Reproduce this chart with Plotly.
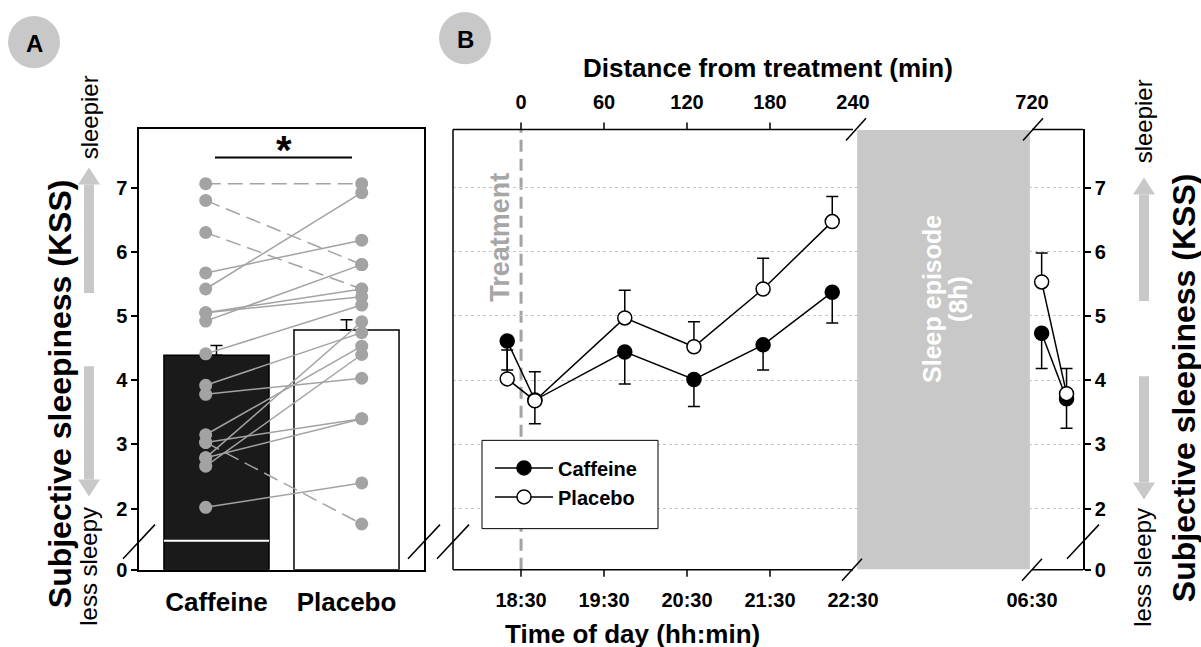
import plotly.graph_objects as go

W, H = 1201, 647          # reference pixel space used for placing decorations
FIG_H = 660               # page height; the capture maps it onto 647 rows
FONT = "Liberation Sans, Arial, sans-serif"
GRAY = "#a3a3a3"
LIGHT = "#c8c8c8"

# ---------------- Panel A data ----------------
groups = ["Caffeine", "Placebo"]
group_mean = [4.39, 4.78]
group_sem = [0.15, 0.16]
caffeine_ind = [7.06, 6.80, 6.30, 5.67, 5.42, 5.05, 5.05, 4.92, 4.41,
                3.92, 3.78, 3.15, 3.03, 3.03, 2.79, 2.79, 2.66, 2.02]
placebo_ind = [7.06, 5.80, 5.42, 6.18, 6.92, 5.42, 5.30, 5.80, 5.17,
               4.74, 4.03, 4.53, 3.40, 1.76, 3.40, 4.91, 4.40, 2.40]

# ---------------- Panel B data ----------------
time_min = [-10, 10, 75, 125, 175, 225, 727, 745]
caf_mean = [4.61, 3.69, 4.44, 4.01, 4.55, 5.37, 4.73, 3.71]
caf_err = [0.45, 0.37, 0.50, 0.42, 0.39, 0.48, 0.55, 0.46]
pla_mean = [4.02, 3.68, 4.97, 4.52, 5.42, 6.47, 5.53, 3.79]
pla_err = [0.45, 0.45, 0.43, 0.39, 0.48, 0.39, 0.45, 0.39]
top_ticks_min = [0, 60, 120, 180, 240, 720]
top_tick_text = ["0", "60", "120", "180", "240", "720"]
bottom_tick_text = ["18:30", "19:30", "20:30", "21:30", "22:30", "06:30"]
kss_ticks = [0, 2, 3, 4, 5, 6, 7]

# ---------------- scales (broken axes) ----------------
Y_BREAK = 1.5
Y_ZERO_DISP = 1.047          # where 0 sits on the compressed part of the y axis
Y_TOP = 7.906


def ydisp(v):
    if v >= Y_BREAK:
        return v
    return Y_ZERO_DISP + v * (Y_BREAK - Y_ZERO_DISP) / Y_BREAK


GAP_START = 240       # minutes at the x-axis break
GAP_END = 720
GAP_SHIFT = 350.6     # minutes removed by the x-axis break


def xdisp(m):
    return m if m <= GAP_START + 5 else m - GAP_SHIFT


def with_gap(xs, ys):
    ox, oy = [], []
    for i, (x, y) in enumerate(zip(xs, ys)):
        if i > 0 and xs[i - 1] <= GAP_START < x:
            ox.append(None)
            oy.append(None)
        ox.append(xdisp(x))
        oy.append(y)
    return ox, oy


def err_gap(xs, e):
    out = []
    for i, x in enumerate(xs):
        if i > 0 and xs[i - 1] <= GAP_START < x:
            out.append(0)
        out.append(e[i])
    return out


def PX(x):
    return x / W


def PY(y):
    return 1 - y / H


fig = go.Figure()

# ---------------- Panel A ----------------
fig.add_trace(go.Bar(
    x=[0, 1], y=[ydisp(m) - Y_ZERO_DISP for m in group_mean], base=Y_ZERO_DISP,
    width=0.808, marker=dict(color=["#1a1a1a", "white"], line=dict(color="black", width=1.5)),
    error_y=dict(type="data", symmetric=False, array=group_sem, arrayminus=[0, 0],
                 color="black", thickness=1.5, width=6),
    xaxis="x", yaxis="y", showlegend=False, hoverinfo="skip"))

XC, XP = -0.083, 1.117
for c, p in zip(caffeine_ind, placebo_ind):
    fig.add_trace(go.Scatter(
        x=[XC, XP], y=[ydisp(c), ydisp(p)], mode="lines",
        line=dict(color=GRAY, width=1.5, dash="solid" if p > c else "15px,7px"),
        xaxis="x", yaxis="y", showlegend=False, hoverinfo="skip"))
fig.add_trace(go.Scatter(
    x=[XC] * len(caffeine_ind) + [XP] * len(placebo_ind),
    y=[ydisp(v) for v in caffeine_ind + placebo_ind], mode="markers",
    marker=dict(color=GRAY, size=13, line=dict(width=0)),
    xaxis="x", yaxis="y", showlegend=False, hoverinfo="skip"))

# ---------------- Panel B ----------------
cx, cy = with_gap(time_min, caf_mean)
px_, py_ = with_gap(time_min, pla_mean)
zeros = [0] * (len(time_min) + 1)
fig.add_trace(go.Scatter(
    x=cx, y=cy, mode="lines+markers", name="Caffeine", legendgroup="c",
    line=dict(color="black", width=1.5),
    marker=dict(symbol="circle", size=14, color="black", line=dict(color="black", width=1.5)),
    error_y=dict(type="data", symmetric=False, array=zeros,
                 arrayminus=err_gap(time_min, caf_err), color="black", thickness=1.5, width=6),
    xaxis="x2", yaxis="y2"))
fig.add_trace(go.Scatter(
    x=px_, y=py_, mode="lines+markers", name="Placebo", legendgroup="p",
    line=dict(color="black", width=1.5),
    marker=dict(symbol="circle", size=14, color="white", line=dict(color="black", width=1.5)),
    error_y=dict(type="data", symmetric=False, array=err_gap(time_min, pla_err),
                 arrayminus=zeros, color="black", thickness=1.5, width=6),
    xaxis="x2", yaxis="y2"))
# invisible trace so the top (distance) axis is drawn
fig.add_trace(go.Scatter(x=[xdisp(0)], y=[None], xaxis="x3", yaxis="y2",
                         showlegend=False, hoverinfo="skip"))

# ---------------- axes ----------------
ydom = [PY(568), PY(129)]
XR2 = [-49.2, 406.3]
tick_font = dict(family=FONT, size=20, color="black", weight="bold")


def kss_axis(**kw):
    d = dict(domain=ydom, range=[Y_ZERO_DISP, Y_TOP], tickvals=[ydisp(v) for v in kss_ticks],
             ticktext=[str(v) for v in kss_ticks], ticks="outside", ticklen=6,
             tickwidth=1.5, tickcolor="black", tickfont=tick_font, zeroline=False,
             showline=True, linecolor="black", linewidth=1.5)
    d.update(kw)
    return d


fig.update_layout(
    width=W, height=FIG_H, autosize=False,
    margin=dict(l=0, r=0, t=0, b=0),
    paper_bgcolor="white", plot_bgcolor="rgba(0,0,0,0)",
    font=dict(family=FONT, color="black"),
    xaxis=dict(domain=[PX(139), PX(424)], range=[-0.596, 1.596], tickvals=[0, 1],
               ticktext=groups, ticks="", showline=True, mirror=True, linecolor="black",
               linewidth=1.5, showgrid=False, zeroline=False, ticklabelstandoff=8,
               tickfont=dict(family=FONT, size=26, color="black", weight="bold")),
    yaxis=kss_axis(anchor="x", mirror=True, showgrid=False),
    xaxis2=dict(domain=[PX(453), PX(1083)], range=XR2, anchor="y2",
                tickvals=[xdisp(m) for m in top_ticks_min], ticktext=bottom_tick_text,
                ticks="", showline=False, showgrid=False, zeroline=False,
                ticklabelstandoff=16, tickfont=tick_font),
    xaxis3=dict(overlaying="x2", matches="x2", side="top", anchor="y2",
                tickvals=[xdisp(m) for m in top_ticks_min], ticktext=top_tick_text,
                ticks="", showline=False, showgrid=False, zeroline=False,
                ticklabelstandoff=15, tickfont=tick_font),
    yaxis2=kss_axis(anchor="x2", side="right", showgrid=True, gridcolor=LIGHT,
                    griddash="dot", gridwidth=1),
    legend=dict(x=PX(490), y=PY(447), xanchor="left", yanchor="top",
                borderwidth=0, bgcolor="rgba(0,0,0,0)",
                font=dict(family=FONT, size=20, color="black", weight="bold"),
                traceorder="normal", itemwidth=58, tracegroupgap=5),
)

shapes = []


def line_px(x0, y0, x1, y1, color="black", width=1.5, dash="solid", layer="above"):
    shapes.append(dict(type="line", xref="paper", yref="paper",
                       x0=PX(x0), y0=PY(y0), x1=PX(x1), y1=PY(y1),
                       line=dict(color=color, width=width, dash=dash), layer=layer))


# sleep episode block
shapes.append(dict(type="rect", xref="x2", yref="paper",
                   x0=xdisp(GAP_START) + 3, x1=xdisp(GAP_END) - 1.5,
                   y0=PY(567.5), y1=PY(129.5), fillcolor=LIGHT, line=dict(width=0), layer="above"))
# treatment line
shapes.append(dict(type="line", xref="x2", yref="paper", x0=0, x1=0, y0=PY(568), y1=PY(129),
                   line=dict(color=GRAY, width=3, dash="12px,7px"), layer="below"))
# legend box
shapes.append(dict(type="rect", xref="paper", yref="paper", x0=PX(482), x1=PX(658),
                   y0=PY(527), y1=PY(439), fillcolor="white",
                   line=dict(color="black", width=1), layer="above"))
# Panel B frame (broken at the sleep episode)
x240 = 521 + 240 * 83 / 60
x720 = 1032
line_px(453, 129, 453, 568)
line_px(453, 129, x240, 129)
line_px(x720, 129, 1083, 129)
line_px(453, 568, x240, 568)
line_px(x720, 568, 1083, 568)
for m in top_ticks_min[:4]:
    xx = 521 + m * 83 / 60
    line_px(xx, 129, xx, 122)
    line_px(xx, 568, xx, 575)
# axis break marks
for (bx, by) in [(856, 129), (1033, 129), (852, 568), (1032, 568)]:
    line_px(bx - 10, by + 11, bx + 10, by - 11)
for bx in [139, 424, 453, 1083]:
    line_px(bx - 16, 557, bx + 16, 523)
# white break line across caffeine bar
shapes.append(dict(type="line", xref="x", yref="y", x0=-0.404, x1=0.404, y0=Y_BREAK, y1=Y_BREAK,
                   line=dict(color="white", width=2), layer="above"))
# significance bar
line_px(215, 157, 352, 157, width=2)
# panel letter circles
for (cxp, cyp) in [(34, 42), (465, 38)]:
    shapes.append(dict(type="circle", xref="paper", yref="paper",
                       x0=PX(cxp - 26), x1=PX(cxp + 26), y0=PY(cyp + 26), y1=PY(cyp - 26),
                       fillcolor=LIGHT, line=dict(width=0), layer="below"))


# sleepier / less sleepy arrows
def arrow(x, y_tail, y_tip):
    d = -1 if y_tip < y_tail else 1
    y_head = y_tip - d * 17
    shapes.append(dict(type="rect", xref="paper", yref="paper", x0=PX(x - 5), x1=PX(x + 5),
                       y0=PY(y_tail), y1=PY(y_head), fillcolor=LIGHT, line=dict(width=0)))
    path = f"M {PX(x-11)} {PY(y_head)} L {PX(x+11)} {PY(y_head)} L {PX(x)} {PY(y_tip)} Z"
    shapes.append(dict(type="path", xref="paper", yref="paper", path=path,
                       fillcolor=LIGHT, line=dict(width=0)))


arrow(89, 292, 167)
arrow(89, 365, 495)
arrow(1144, 300, 177)
arrow(1144, 375, 498)

fig.update_layout(shapes=shapes)

ann = []


def text(x, y, s, size, bold=True, color="black", angle=0, xanchor="center", yanchor="middle"):
    ann.append(dict(x=PX(x), y=PY(y), xref="paper", yref="paper", text=s, showarrow=False,
                    textangle=angle, xanchor=xanchor, yanchor=yanchor,
                    font=dict(family=FONT, size=size, color=color,
                              weight="bold" if bold else "normal")))


text(34, 43, "A", 24)
text(465, 39, "B", 24)
text(284, 150, "*", 40)
text(768, 68, "Distance from treatment (min)", 26)
text(632, 632, "Time of day (hh:min)", 26)
text(60, 393, "Subjective sleepiness (KSS)", 32, angle=-90)
text(1184, 387, "Subjective sleepiness (KSS)", 32, angle=-90)
text(89, 117, "sleepier", 24, bold=False, angle=-90)
text(89, 565, "less sleepy", 24, bold=False, angle=-90)
text(1143, 121, "sleepier", 24, bold=False, angle=-90)
text(1143, 566, "less sleepy", 24, bold=False, angle=-90)
text(500, 236, "Treatment", 27, color="#a6a6a6", angle=-90)
text(932, 298, "Sleep episode", 25, color="white", angle=-90)
text(958, 298, "(8h)", 25, color="white", angle=-90)
fig.update_layout(annotations=ann)

POST = ("var h=document.documentElement.style, b=document.body.style;"
        "h.margin=b.margin='0px'; h.padding=b.padding='0px';"
        "h.overflow=b.overflow='hidden';"
        "var g=document.getElementById('{plot_id}');"
        "g.parentElement.style.overflow='hidden';")
fig.write_html("out.html", config={"displayModeBar": False}, post_script=POST)
